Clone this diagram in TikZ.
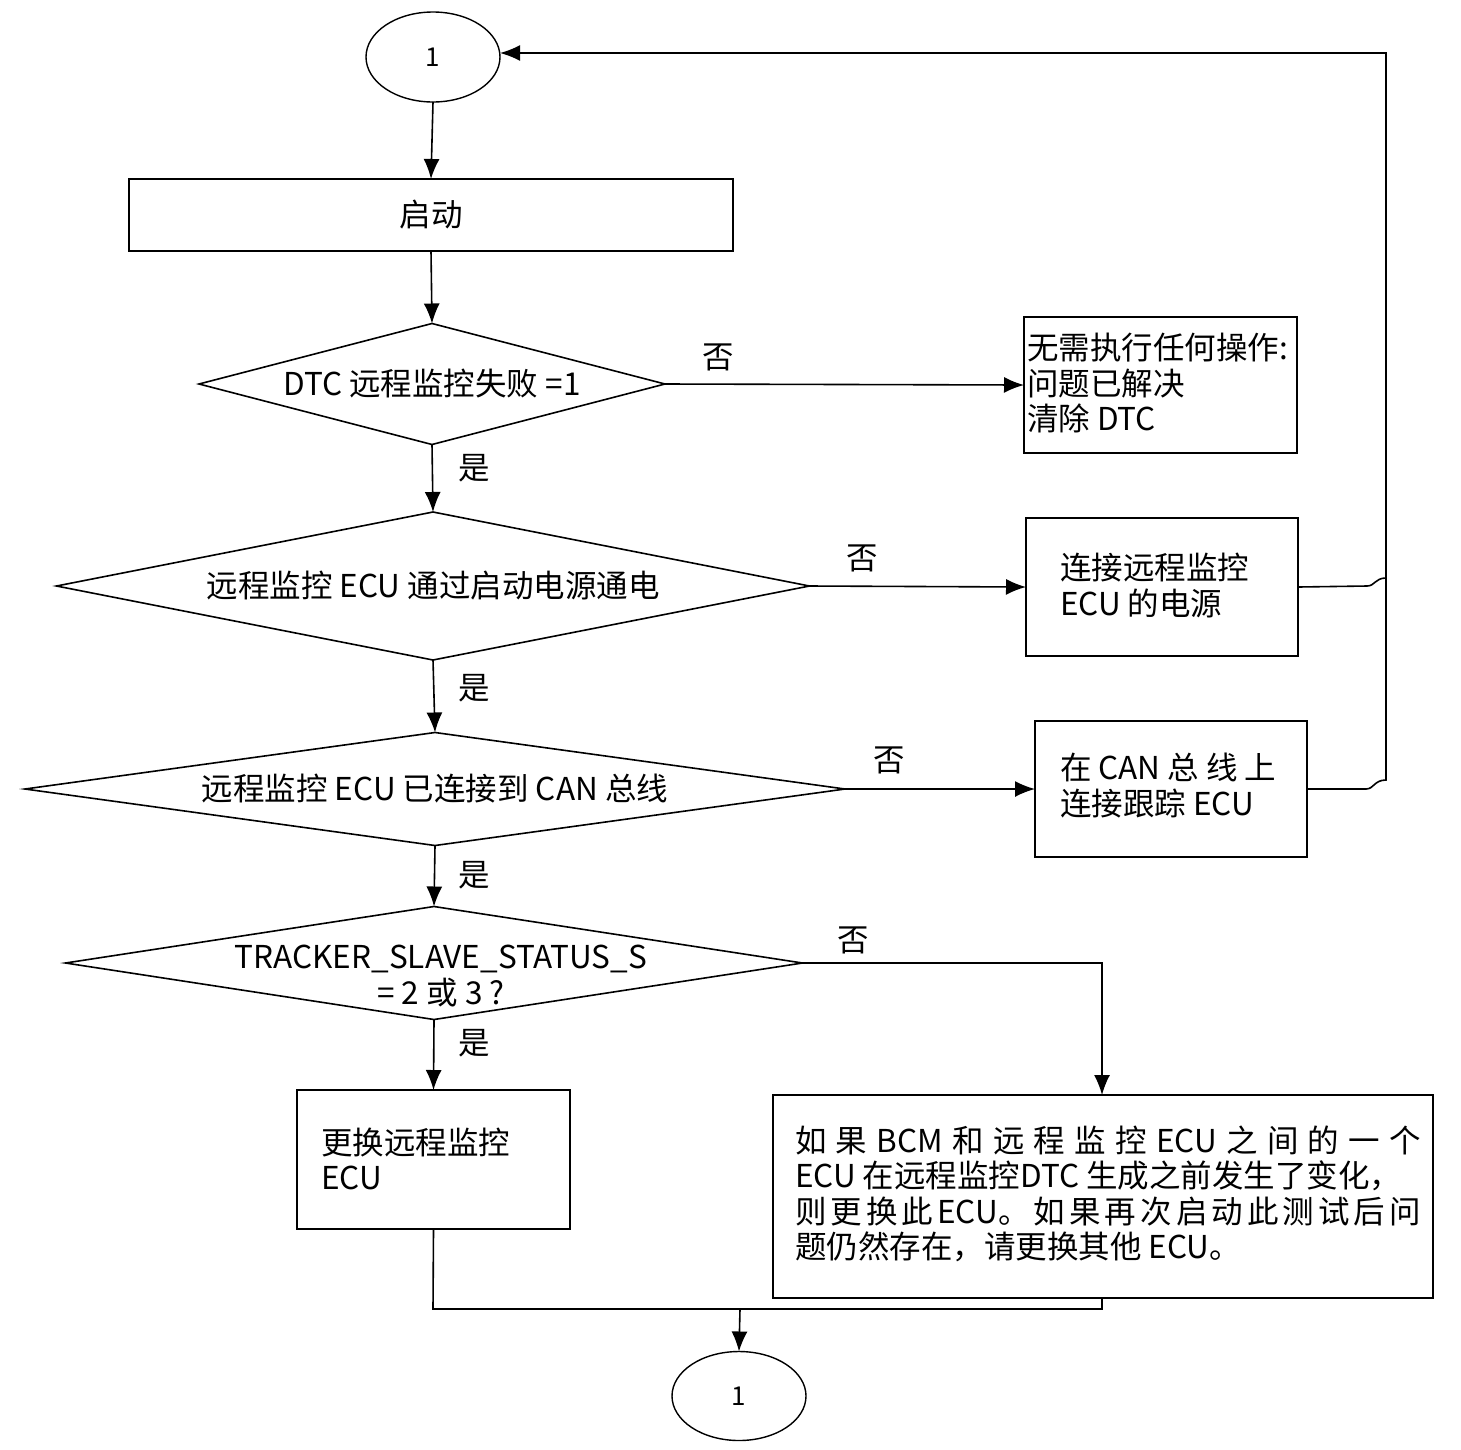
\documentclass[tikz,border=0pt]{standalone}
\usepackage{fontspec}
\setmainfont{Noto Sans CJK SC}
\usetikzlibrary{shapes.geometric,arrows.meta}
\begin{document}
\begin{tikzpicture}[x=1pt,y=-1pt,
 every node/.style={font=\fontsize{31.5}{35.5}\selectfont, inner sep=0pt, outer sep=0pt},
 box/.style={draw, line width=1.6pt, rectangle},
 dia/.style={draw, line width=1.6pt, diamond},
 ell/.style={draw, line width=1.4pt, ellipse, font=\fontsize{26}{30}\selectfont},
 line/.style={line width=1.6pt},
 arr/.style={line width=1.6pt, -{Latex[length=20pt,width=16pt]}},
 txt/.style={align=left, anchor=west}]
\useasboundingbox (0,0) rectangle (1461,1449);

% terminals
\node[ell, minimum width=134pt, minimum height=90pt] (e0) at (433,57) {1};
\node[ell, minimum width=134pt, minimum height=89pt] (e1) at (739,1396) {1};

% start box
\node[box, minimum width=604pt, minimum height=72pt] (b0) at (431,215) {启动};

% decisions
\node[dia, minimum width=466pt, minimum height=121pt] (d1) at (432,384) {};
\node at (d1) {DTC 远程监控失败 =1};
\node[dia, minimum width=753pt, minimum height=148pt] (d2) at (433,586) {};
\node at (d2) {远程监控 ECU 通过启动电源通电};
\node[dia, minimum width=820pt, minimum height=113pt] (d3) at (435,789) {};
\node at (d3) {远程监控 ECU 已连接到 CAN 总线};
\node[dia, minimum width=737pt, minimum height=113pt] (d4) at (434,963) {};
\node[align=center] at (441,976) {TRACKER\_SLAVE\_STATUS\_S\\= 2 或 3 ?};

% right boxes
\node[box, minimum width=273pt, minimum height=136pt] (r1) at (1160.5,385) {};
\node[txt] at (1027,383) {无需执行任何操作:\\问题已解决\\清除 DTC};
\node[box, minimum width=272pt, minimum height=138pt] (r2) at (1162,587) {};
\node[txt] at (1060,585.5) {连接远程监控\\ECU 的电源};
\node[box, minimum width=272pt, minimum height=136pt] (r3) at (1171,789) {};
\node[txt] at (1060,785.5) {在 CAN 总 线 上\\连接跟踪 ECU};

% bottom boxes
\node[box, minimum width=273pt, minimum height=139pt] (b5) at (433.5,1159.5) {};
\node[txt] at (321,1159) {更换远程监控\\ECU};
\node[box, minimum width=660pt, minimum height=203pt] (b6) at (1103,1196.5) {};
\node[txt] at (795,1194) {%
\makebox[626pt][s]{\spaceskip=0pt plus 1fil 如 果 BCM 和 远 程 监 控 ECU 之 间 的 一 个}\\
ECU 在远程监控DTC 生成之前发生了变化，\\
\makebox[626pt][s]{\spaceskip=0pt plus 1fil 则 更 换 此 ECU。 如 果 再 次 启 动 此 测 试 后 问}\\
题仍然存在，请更换其他 ECU。};

% main flow
\draw[arr] (e0.south) -- (b0.north);
\draw[arr] (b0.south) -- (d1.north);
\draw[arr] (d1.south) -- (d2.north);
\draw[arr] (d2.south) -- (d3.north);
\draw[arr] (d3.south) -- (d4.north);
\draw[arr] (d4.south) -- (b5.north);

% no branches
\draw[arr] (d1.east) -- (r1.west);
\draw[arr] (d2.east) -- (r2.west);
\draw[arr] (d3.east) -- (r3.west);
\draw[arr] (d4.east) -- (1102,963) -- (1102,1095);

% labels
\node at (718,357) {否};
\node at (862,558) {否};
\node at (889,760) {否};
\node at (853,940) {否};
\node at (474,468) {是};
\node at (474,688) {是};
\node at (474,875) {是};
\node at (474,1043) {是};

% feedback loop
\draw[line] (r2.east) -- (1367,586) .. controls (1375,586) and (1375,578) .. (1386,578);
\draw[arr] (r3.east) -- (1366,789) .. controls (1374,789) and (1374,780) .. (1386,780) -- (1386,53) -- (e0.east |- 0,53);

% merge at bottom
\coordinate (m) at (740,1309);
\draw[line] (b5.south) -- (433,1309) -- (1102,1309) -- (1102,1298);
\draw[arr] (m) -- (e1.north);
\end{tikzpicture}
\end{document}
